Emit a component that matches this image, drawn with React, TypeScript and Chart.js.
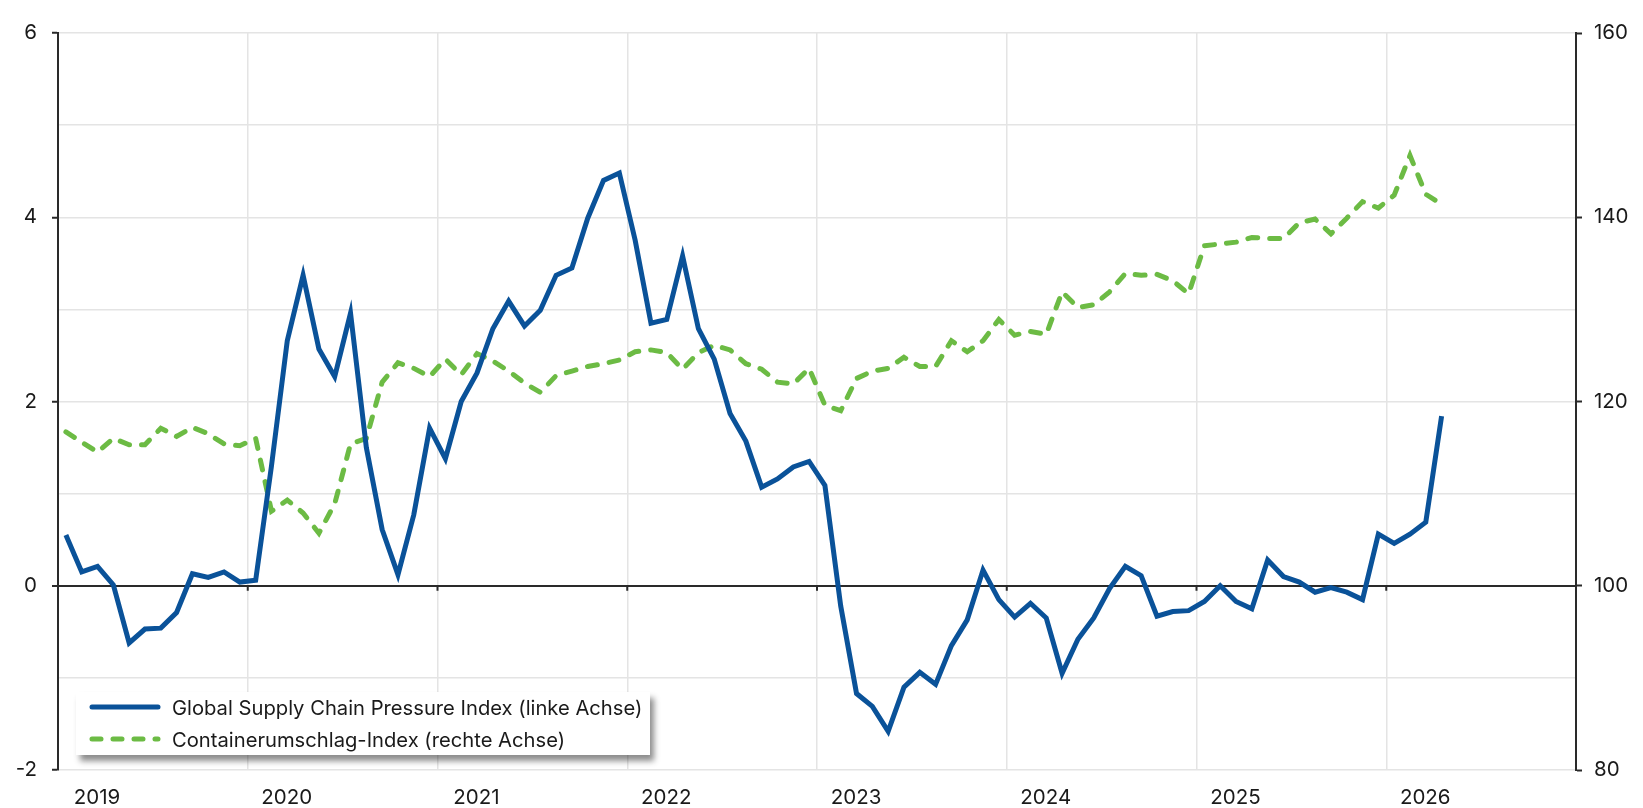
import React, { useEffect, useRef } from "react";
import { Chart, registerables } from "chart.js";

Chart.register(...registerables);

// ---- Data (monthly, Jan 2019 – Apr 2026) ----
const yearLabels = ["2019", "2020", "2021", "2022", "2023", "2024", "2025", "2026"];

const gscpi = [
  0.55, 0.15, 0.21, 0.01, -0.62, -0.47, -0.46, -0.29, 0.13, 0.09, 0.15, 0.04,
  0.06, 1.3, 2.66, 3.37, 2.57, 2.27, 2.96, 1.5, 0.61, 0.12, 0.77, 1.71,
  1.38, 2.0, 2.31, 2.79, 3.09, 2.82, 2.99, 3.37, 3.45, 3.99, 4.4, 4.48,
  3.75, 2.85, 2.89, 3.58, 2.79, 2.46, 1.87, 1.57, 1.07, 1.16, 1.29, 1.35,
  1.09, -0.22, -1.17, -1.31, -1.58, -1.1, -0.94, -1.07, -0.65, -0.37, 0.17, -0.15,
  -0.34, -0.19, -0.35, -0.95, -0.58, -0.35, -0.03, 0.21, 0.11, -0.33, -0.28, -0.27,
  -0.17, 0.0, -0.17, -0.25, 0.28, 0.1, 0.04, -0.07, -0.02, -0.07, -0.15, 0.56,
  0.46, 0.56, 0.69, 1.84,
];

const containerIndex = [
  116.7, 115.6, 114.5, 116.0, 115.3, 115.3, 117.1, 116.2, 117.2, 116.5, 115.4, 115.2,
  116.0, 108.1, 109.3, 107.9, 105.7, 108.9, 115.4, 116.0, 122.1, 124.2, 123.6, 122.7,
  124.6, 122.9, 125.2, 124.4, 123.3, 122.0, 121.0, 122.8, 123.3, 123.8, 124.1, 124.5,
  125.4, 125.6, 125.3, 123.5, 125.3, 126.1, 125.6, 124.1, 123.5, 122.1, 121.9, 123.6,
  119.6, 119.0, 122.5, 123.3, 123.6, 124.8, 123.8, 123.8, 126.6, 125.4, 126.6, 128.9,
  127.2, 127.6, 127.3, 131.9, 130.2, 130.5, 131.9, 133.9, 133.7, 133.8, 133.1, 131.7,
  136.9, 137.1, 137.3, 137.8, 137.7, 137.7, 139.4, 139.8, 138.2, 139.9, 141.7, 141.0,
  142.4, 146.7, 142.5, 141.4,
];

const seriesNames = [
  "Global Supply Chain Pressure Index (linke Achse)",
  "Containerumschlag-Index (rechte Achse)",
];

const BLUE = "#0a5299";
const GREEN = "#6cbb44";
const GRID = "#e4e4e4";
const AXIS = "#2a2a2a";
const FONT = "Inter, 'Liberation Sans', Arial, sans-serif";

const toPoints = (arr: number[]) => arr.map((v, i) => ({ x: i + 0.5, y: v }));

const zeroTicksPlugin = {
  id: "zeroTicks",
  beforeDatasetsDraw(chart: any) {
    const { ctx, scales } = chart;
    const x = scales.x;
    const y0 = scales.y.getPixelForValue(0);
    ctx.save();
    ctx.strokeStyle = AXIS;
    ctx.lineWidth = 2;
    x.ticks.forEach((t: any) => {
      if (t.value <= 0 || t.value >= 96) return;
      const px = x.getPixelForValue(t.value);
      ctx.beginPath();
      ctx.moveTo(px, y0);
      ctx.lineTo(px, y0 + 5);
      ctx.stroke();
    });
    ctx.restore();
  },
};

export default function App() {
  const canvasRef = useRef<HTMLCanvasElement | null>(null);

  useEffect(() => {
    if (!canvasRef.current) return;
    Chart.defaults.font.family = FONT;
    const chart = new Chart(canvasRef.current, {
      type: "line",
      data: {
        datasets: [
          {
            label: seriesNames[0],
            data: toPoints(gscpi),
            yAxisID: "y",
            borderColor: BLUE,
            borderWidth: 5,
            pointRadius: 0,
            tension: 0,
            order: 1,
          },
          {
            label: seriesNames[1],
            data: toPoints(containerIndex),
            yAxisID: "y2",
            borderColor: GREEN,
            borderWidth: 5,
            borderDash: [10, 12],
            borderCapStyle: "round",
            pointRadius: 0,
            tension: 0,
            order: 2,
          },
        ],
      },
      options: {
        animation: false,
        responsive: true,
        maintainAspectRatio: false,
        layout: { padding: { top: 33, left: 0, right: 0, bottom: 0 } },
        plugins: {
          legend: { display: false },
          tooltip: { enabled: false },
        },
        scales: {
          x: {
            type: "linear",
            min: 0,
            max: 96,
            afterFit: (s: any) => {
              s.height = 38;
            },
            afterBuildTicks: (s: any) => {
              s.ticks = Array.from({ length: 9 }, (_, k) => ({ value: k * 12 }));
            },
            border: { display: false },
            grid: { color: GRID, lineWidth: 1.5, drawTicks: false },
            ticks: {
              autoSkip: false,
              maxRotation: 0,
              padding: 16,
              labelOffset: 39,
              color: "#1a1a1a",
              font: { size: 20.5 },
              callback: (v: any) => {
                const k = Math.round(Number(v) / 12);
                return k < yearLabels.length ? yearLabels[k] : "";
              },
            },
          },
          y: {
            position: "left",
            min: -2,
            max: 6,
            afterFit: (s: any) => {
              s.width = 58;
            },
            border: { display: true, color: AXIS, width: 2 },
            grid: {
              color: (c: any) => (c.tick && c.tick.value === 0 ? AXIS : GRID),
              lineWidth: (c: any) => (c.tick && c.tick.value === 0 ? 2 : 1.5),
              tickColor: (c: any) =>
                c.tick && c.tick.value % 2 === 0 ? AXIS : "rgba(0,0,0,0)",
              tickLength: 6,
              tickWidth: 2,
            },
            ticks: {
              stepSize: 1,
              padding: 15,
              color: "#1a1a1a",
              font: { size: 20.5 },
              callback: (v: any) => (Number(v) % 2 === 0 ? String(v) : ""),
            },
          },
          y2: {
            position: "right",
            min: 80,
            max: 160,
            afterFit: (s: any) => {
              s.width = 67;
            },
            border: { display: true, color: AXIS, width: 2 },
            grid: {
              drawOnChartArea: false,
              tickColor: (c: any) =>
                c.tick && c.tick.value % 20 === 0 ? AXIS : "rgba(0,0,0,0)",
              tickLength: 6,
              tickWidth: 2,
            },
            ticks: {
              stepSize: 10,
              padding: 12,
              color: "#1a1a1a",
              font: { size: 20.5 },
              callback: (v: any) => (Number(v) % 20 === 0 ? String(v) : ""),
            },
          },
        },
      },
      plugins: [zeroTicksPlugin],
    } as any);
    return () => chart.destroy();
  }, []);

  const legendRow = (i: number) => (
    <div
      key={i}
      style={{
        position: "absolute",
        left: 0,
        top: i === 0 ? 0 : 32,
        height: 30,
        display: "flex",
        alignItems: "center",
      }}
    >
      <svg width={96} height={30} style={{ display: "block" }}>
        {i === 0 ? (
          <line x1={16} y1={15} x2={82} y2={15} stroke={BLUE} strokeWidth={5} strokeLinecap="round" />
        ) : (
          <line
            x1={16}
            y1={15}
            x2={82}
            y2={15}
            stroke={GREEN}
            strokeWidth={5}
            strokeLinecap="round"
            strokeDasharray="9 12"
          />
        )}
      </svg>
      <span style={{ fontFamily: FONT, fontSize: 20.2, color: "#1a1a1a", whiteSpace: "nowrap" }}>
        {seriesNames[i]}
      </span>
    </div>
  );

  return (
    <div style={{ position: "fixed", left: 0, top: 0, width: 1643, height: 808, background: "#fff" }}>
      <canvas ref={canvasRef} />
      <div
        style={{
          position: "absolute",
          left: 76,
          top: 692,
          width: 574,
          height: 63,
          background: "#fff",
          boxShadow: "4px 6px 6px rgba(0,0,0,0.45)",
        }}
      >
        {legendRow(0)}
        {legendRow(1)}
      </div>
    </div>
  );
}
